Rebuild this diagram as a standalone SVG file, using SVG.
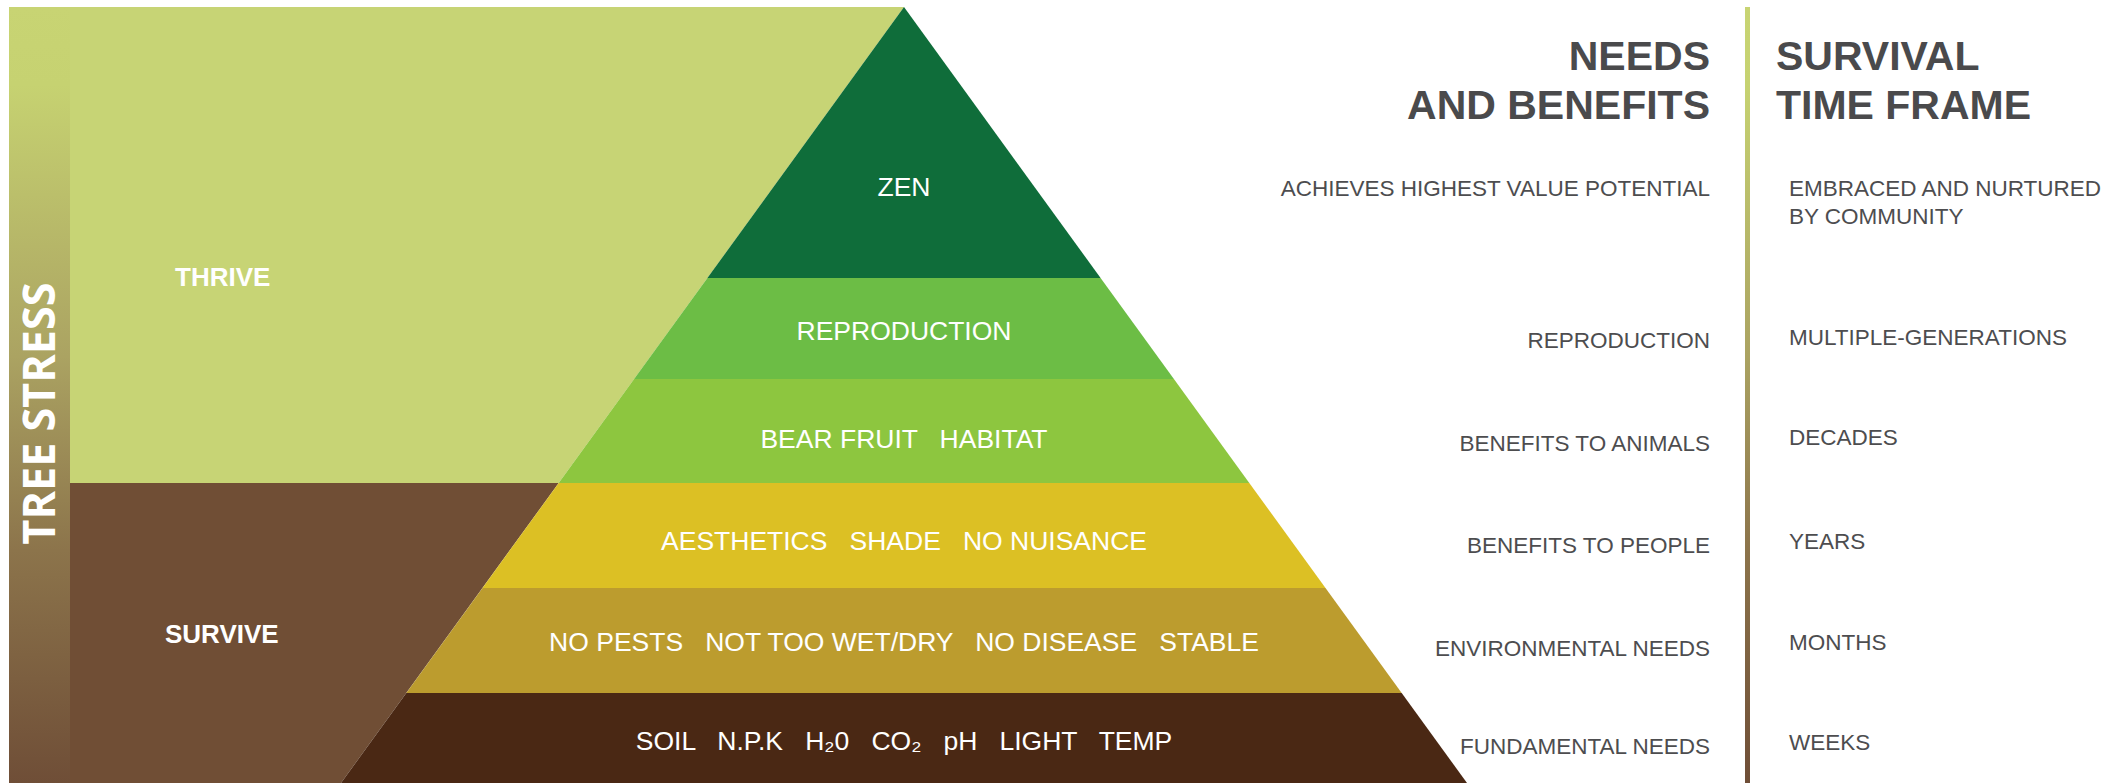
<svg xmlns="http://www.w3.org/2000/svg" width="2125" height="783" viewBox="0 0 2125 783">
<defs>
<linearGradient id="stressGrad" x1="0" y1="0" x2="0" y2="1">
<stop offset="0" stop-color="#c8d473"/>
<stop offset="0.1" stop-color="#c6d271"/>
<stop offset="0.45" stop-color="#aba362"/>
<stop offset="0.7" stop-color="#8c744b"/>
<stop offset="1" stop-color="#6f4e37"/>
</linearGradient>
<style>
.band-label{font-family:"Liberation Sans",Arial,sans-serif;font-size:26.5px;fill:#ffffff;text-anchor:middle;}
.zone-label{font-family:"Liberation Sans",Arial,sans-serif;font-size:26px;font-weight:bold;fill:#ffffff;}
.heading{font-family:"Liberation Sans",Arial,sans-serif;font-size:41px;font-weight:bold;fill:#4a4a4c;}
.need{font-family:"Liberation Sans",Arial,sans-serif;font-size:22.5px;fill:#4d4d4f;text-anchor:end;}
.time{font-family:"Liberation Sans",Arial,sans-serif;font-size:22.5px;fill:#4d4d4f;}
</style>
</defs>
<rect width="2125" height="783" fill="#ffffff"/>

<g id="tree-stress">
<rect x="9" y="7" width="61" height="776" fill="url(#stressGrad)"/>
<text transform="translate(55,413.5) rotate(-90)" text-anchor="middle" font-family="Open Sans, Liberation Sans, Arial, sans-serif" font-weight="bold" font-size="44" fill="#ffffff" textLength="262" lengthAdjust="spacingAndGlyphs">TREE STRESS</text>
</g>

<g id="thrive">
<polygon points="70,7 904,7 558.7,483 70,483" fill="#c7d475"/>
<text class="zone-label" x="175" y="286">THRIVE</text>
</g>

<g id="survive">
<polygon points="70,483 558.7,483 341,783 70,783" fill="#704e35"/>
<text class="zone-label" x="165" y="643">SURVIVE</text>
</g>

<g id="band-zen">
<polygon points="904,7 1100.6,278 707.4,278" fill="#0f6d3a"/>
<text class="band-label" x="904" y="196">ZEN</text>
</g>

<g id="band-reproduction">
<polygon points="707.4,278 1100.6,278 1173.9,379 634.1,379" fill="#6cbd45"/>
<text class="band-label" x="904" y="340">REPRODUCTION</text>
</g>

<g id="band-fruit">
<polygon points="634.1,379 1173.9,379 1249.3,483 558.7,483" fill="#8dc63f"/>
<text class="band-label" x="904" y="448" xml:space="preserve">BEAR FRUIT   HABITAT</text>
</g>

<g id="band-aesthetics">
<polygon points="558.7,483 1249.3,483 1325.5,588 482.5,588" fill="#dcc024"/>
<text class="band-label" x="904" y="550" xml:space="preserve">AESTHETICS   SHADE   NO NUISANCE</text>
</g>

<g id="band-environment">
<polygon points="482.5,588 1325.5,588 1401.7,693 406.3,693" fill="#bc9c2e"/>
<text class="band-label" x="904" y="651" xml:space="preserve">NO PESTS   NOT TOO WET/DRY   NO DISEASE   STABLE</text>
</g>

<g id="band-fundamental">
<polygon points="406.3,693 1401.7,693 1467,783 341,783" fill="#4a2814"/>
<text class="band-label" x="904" y="750" xml:space="preserve">SOIL   N.P.K   H₂0   CO₂   pH   LIGHT   TEMP</text>
</g>

<g id="divider">
<rect x="1745" y="7" width="5" height="776" fill="url(#stressGrad)"/>
</g>

<g id="heading-needs">
<text class="heading" x="1710" y="70" text-anchor="end">NEEDS</text>
<text class="heading" x="1710" y="119" text-anchor="end">AND BENEFITS</text>
</g>

<g id="heading-time">
<text class="heading" x="1776" y="70">SURVIVAL</text>
<text class="heading" x="1776" y="119">TIME FRAME</text>
</g>

<g id="row-zen">
<text class="need" x="1710" y="196">ACHIEVES HIGHEST VALUE POTENTIAL</text>
<text class="time" x="1789" y="196">EMBRACED AND NURTURED</text>
<text class="time" x="1789" y="224">BY COMMUNITY</text>
</g>

<g id="row-reproduction">
<text class="need" x="1710" y="348">REPRODUCTION</text>
<text class="time" x="1789" y="345">MULTIPLE-GENERATIONS</text>
</g>

<g id="row-animals">
<text class="need" x="1710" y="451">BENEFITS TO ANIMALS</text>
<text class="time" x="1789" y="445">DECADES</text>
</g>

<g id="row-people">
<text class="need" x="1710" y="553">BENEFITS TO PEOPLE</text>
<text class="time" x="1789" y="549">YEARS</text>
</g>

<g id="row-environment">
<text class="need" x="1710" y="656">ENVIRONMENTAL NEEDS</text>
<text class="time" x="1789" y="650">MONTHS</text>
</g>

<g id="row-fundamental">
<text class="need" x="1710" y="754">FUNDAMENTAL NEEDS</text>
<text class="time" x="1789" y="750">WEEKS</text>
</g>
</svg>
